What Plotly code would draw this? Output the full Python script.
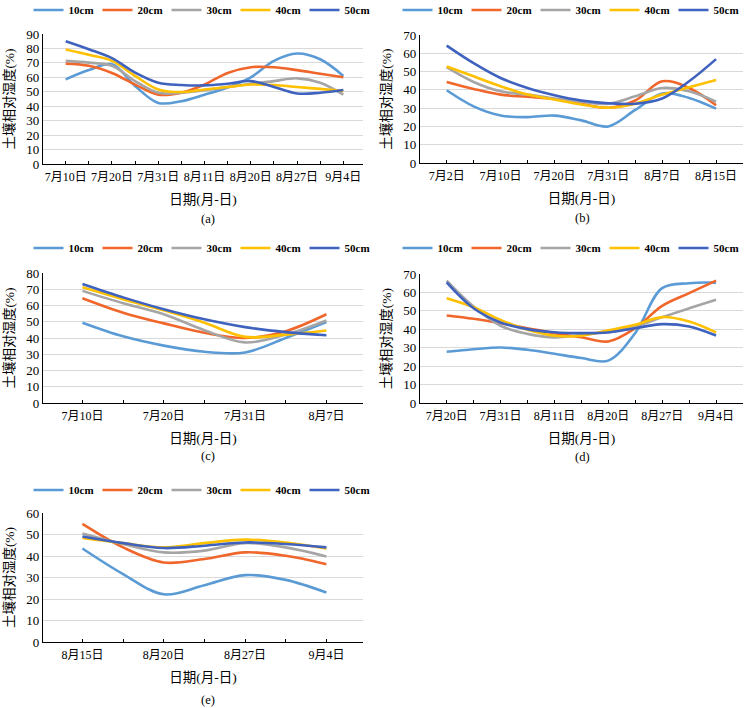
import plotly.graph_objects as go

W, H = 744, 708

series_names = ["10cm", "20cm", "30cm", "40cm", "50cm"]
colors = ["#5B9BD5", "#F0662B", "#A5A5A5", "#FFC000", "#3F62BE"]

# Panel (a)
labels_a = ["7月10日", "7月20日", "7月31日", "8月11日", "8月20日", "8月27日", "9月4日"]
a_10 = [58.6, 65, 69, 54, 42.3, 43.5, 48, 53, 60, 71.4, 76.5, 72.5, 61]
a_20 = [69.5, 68, 63, 55, 48, 49.3, 55, 63, 67, 67, 65, 62.5, 60]
a_30 = [71.4, 70.2, 68, 57.4, 49.3, 49.3, 51, 53.3, 55.6, 57.4, 59.3, 56.3, 48]
a_40 = [79.3, 75.6, 71.4, 61, 51.6, 49.8, 51.6, 53.3, 55, 54.7, 53.3, 52, 50.5]
a_50 = [85, 79.5, 73.3, 63.3, 56.3, 54.7, 54.4, 55.6, 57.4, 53.3, 48.8, 49.3, 51.2]

# Panel (b)
labels_b = ["7月2日", "7月10日", "7月20日", "7月31日", "8月7日", "8月15日"]
b_10 = [39.8, 31, 26, 25.1, 25.9, 23.3, 20, 29, 38, 35.6, 29.7]
b_20 = [44.3, 40.5, 37.4, 36.2, 35, 32.4, 30.2, 34.2, 44.7, 41, 31.6]
b_30 = [52.4, 44.3, 39.2, 37.4, 35.3, 33.5, 32.4, 36.5, 41, 39.2, 33.5]
b_40 = [52.8, 47.4, 42, 37.4, 34.7, 32, 30.2, 32.4, 37.4, 41.4, 45.4]
b_50 = [64.2, 54.6, 46.5, 41, 37.1, 34.2, 32.7, 32.4, 35.3, 44.7, 56.8]

# Panel (c)
labels_c = ["7月10日", "7月20日", "7月31日", "8月7日"]
c_10 = [49.4, 41, 35.3, 31.5, 31.1, 40, 49.8]
c_20 = [64.5, 55.6, 49, 43.2, 40, 44.2, 54.6]
c_30 = [69, 61.4, 54.6, 44.8, 37.3, 42.1, 50.8]
c_40 = [71.2, 63.9, 57, 49.4, 40.7, 42.1, 44.6]
c_50 = [73.2, 65, 57.7, 51.5, 46.7, 43.6, 41.7]

# Panel (d)
labels_d = ["7月20日", "7月31日", "8月11日", "8月20日", "8月27日", "9月4日"]
d_10 = [27.8, 29.2, 30.1, 28.9, 26.7, 24.4, 23.0, 38, 62.3, 65, 65.3]
d_20 = [47.5, 45.7, 43.3, 40.6, 37.9, 35.7, 33.4, 40.6, 52.7, 59.6, 66.4]
d_30 = [66.4, 52.3, 41.9, 37.5, 35.6, 37, 38.8, 41.5, 46.6, 51.4, 56]
d_40 = [56.9, 52, 45.1, 39.7, 36.5, 36.5, 39.4, 42.4, 46.6, 44.2, 38.3]
d_50 = [65.5, 51.4, 43.7, 40.1, 38.4, 37.9, 38.3, 40.6, 42.8, 41.5, 36.6]

# Panel (e)
labels_e = ["8月15日", "8月20日", "8月27日", "9月4日"]
e_10 = [43.5, 31.6, 22.2, 26.4, 31.1, 28.9, 23]
e_20 = [54.9, 44, 37, 38.6, 41.7, 40.1, 36.2]
e_30 = [50.5, 45.6, 41.7, 42.5, 46, 44, 39.8]
e_40 = [48.4, 46, 44, 46, 47.6, 46.3, 43.5]
e_50 = [49.1, 46, 43.7, 44.8, 46.3, 45.6, 44]

panels = [
    dict(tag="(a)", labels=labels_a, data=[a_10, a_20, a_30, a_40, a_50], ymax=90,
         box=(43, 363, 34, 164), xr=[-0.98, 12.85], leg=(201, 10), lab=(208, 219)),
    dict(tag="(b)", labels=labels_b, data=[b_10, b_20, b_30, b_40, b_50], ymax=70,
         box=(420, 743, 35, 163), xr=[-0.99, 11.0], leg=(570, 10), lab=(582, 218)),
    dict(tag="(c)", labels=labels_c, data=[c_10, c_20, c_30, c_40, c_50], ymax=80,
         box=(43, 363, 273, 403), xr=[-0.97, 6.9], leg=(201, 248), lab=(208, 456)),
    dict(tag="(d)", labels=labels_d, data=[d_10, d_20, d_30, d_40, d_50], ymax=70,
         box=(420, 743, 274, 403), xr=[-0.99, 11.0], leg=(570, 248), lab=(582, 457)),
    dict(tag="(e)", labels=labels_e, data=[e_10, e_20, e_30, e_40, e_50], ymax=60,
         box=(43, 363, 513, 642), xr=[-0.97, 6.9], leg=(201, 490), lab=(208, 700)),
]

FONT = "Liberation Serif, Times New Roman, Noto Sans CJK SC, serif"

fig = go.Figure()
layout = dict(
    width=W, height=H, margin=dict(l=0, r=0, t=0, b=0, autoexpand=False),
    paper_bgcolor="white", plot_bgcolor="white",
    font=dict(family=FONT, size=12, color="#000000"),
    annotations=[],
)

for i, p in enumerate(panels):
    k = "" if i == 0 else str(i + 1)
    n = len(p["data"][0])
    xs = list(range(n))
    ticktext = []
    for j in range(n):
        ticktext.append(p["labels"][j // 2] if j % 2 == 0 else "")
    legname = "legend" + k
    for s, (name, col) in enumerate(zip(series_names, colors)):
        fig.add_trace(go.Scatter(
            x=xs, y=p["data"][s], name=name, mode="lines",
            line=dict(color=col, width=2.6, shape="spline", smoothing=1.0),
            xaxis="x" + k, yaxis="y" + k, legend=legname, showlegend=True,
        ))
    x0, x1, y0, y1 = p["box"]
    layout["xaxis" + k] = dict(
        domain=[x0 / W, x1 / W], anchor="y" + k, range=p["xr"],
        tickmode="array", tickvals=xs, ticktext=ticktext,
        ticks="inside", ticklen=3, tickcolor="#000000", tickwidth=1,
        showline=True, linecolor="#000000", linewidth=1.2,
        showgrid=False, zeroline=False,
        tickfont=dict(size=12), ticklabelstandoff=1,
        title=dict(text="日期(月-日)", font=dict(size=13.5), standoff=12),
    )
    layout["yaxis" + k] = dict(
        domain=[1 - y1 / H, 1 - y0 / H], anchor="x" + k,
        range=[0, p["ymax"]], dtick=10, tick0=0,
        showgrid=True, gridcolor="#D9D9D9", gridwidth=1,
        showline=True, linecolor="#000000", linewidth=1.2,
        ticks="", zeroline=False,
        tickfont=dict(size=13),
        title=dict(text="土壤相对湿度(%)", font=dict(size=13.5), standoff=8),
    )
    lx, ly = p["leg"]
    layout[legname] = dict(
        orientation="h", x=lx / W, y=1 - ly / H, xanchor="center", yanchor="middle",
        xref="paper", yref="paper",
        font=dict(size=11, family="Liberation Serif, serif", weight="bold"),
        bgcolor="rgba(0,0,0,0)", borderwidth=0,
        entrywidth=24, entrywidthmode="pixels", itemwidth=30, tracegroupgap=0,
    )
    ax, ay = p["lab"]
    layout["annotations"].append(dict(
        text=p["tag"], x=ax / W, y=1 - ay / H, xref="paper", yref="paper",
        showarrow=False, xanchor="center", yanchor="middle",
        font=dict(size=12.5, family=FONT),
    ))

fig.update_layout(**layout)
fig.write_html(
    "out.html",
    config={"displayModeBar": False},
    post_script="document.body.style.margin='0';document.body.style.overflow='hidden';",
)
